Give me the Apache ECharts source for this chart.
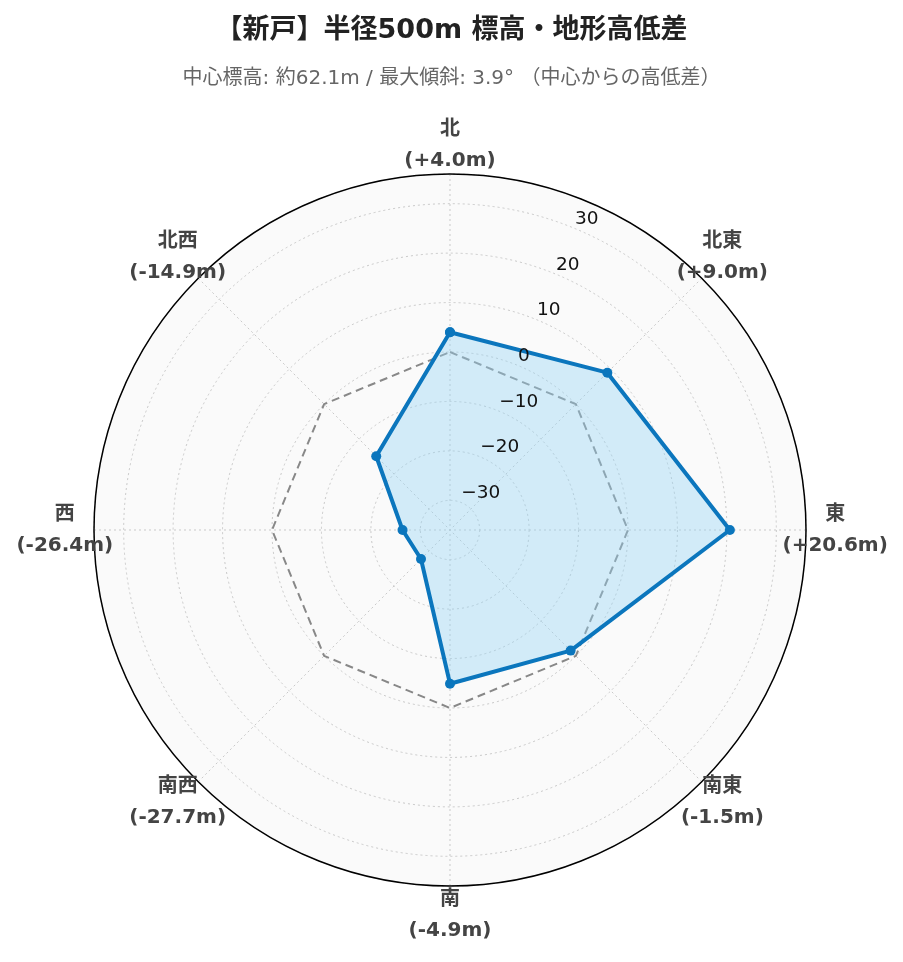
<!DOCTYPE html>
<html><head><meta charset="utf-8">
<script src="https://cdn.jsdelivr.net/npm/echarts@6/dist/echarts.min.js"></script>
<style>html,body{margin:0;padding:0;background:#fff}#chart{width:903px;height:962px}</style>
</head><body><div id="chart"></div>
<script>
// ---- data ----
const directions = ['北', '北東', '東', '南東', '南', '南西', '西', '北西'];
const elevDiff = [4.0, 9.0, 20.6, -1.5, -4.9, -27.7, -26.4, -14.9];
const zeroRef = [0, 0, 0, 0, 0, 0, 0, 0];
const radialTicks = [-30, -20, -10, 0, 10, 20, 30];
const titleText = '【新戸】半径500m 標高・地形高低差';
const subtitleText = '中心標高: 約62.1m / 最大傾斜: 3.9° （中心からの高低差）';

// ---- layout / style ----
const R_MIN = -36, R_MAX = 36;
const LABEL_R = 41.9;          // ring where direction labels are centred (axis units)
const STEP = 360 / directions.length;
const FONT = '"DejaVu Sans", "Noto Sans CJK JP", sans-serif';
const CENTER = [450, 530], RADIUS = 356;

function closed(arr) {
  const d = arr.map((v, i) => [v, i * STEP]);
  d.push([arr[0], 360]);
  return d;
}
function fmtDiff(v) { return '(' + (v >= 0 ? '+' : '-') + Math.abs(v).toFixed(1) + 'm)'; }
function fmtTick(v) { return v < 0 ? '\u2212' + Math.abs(v) : String(v); }

const chart = echarts.init(document.getElementById('chart'), null, {renderer: 'canvas'});
const grid = {color: '#c9c9c9', type: [2, 3], width: 1};

chart.setOption({
  backgroundColor: '#fff',
  animation: false,
  textStyle: {fontFamily: FONT},
  title: [
    {text: titleText, left: 'center', top: 12,
     textStyle: {fontSize: 27, fontWeight: 'bold', color: '#222', fontFamily: FONT}},
    {text: subtitleText, left: 'center', top: 64,
     textStyle: {fontSize: 20, fontWeight: 'normal', color: '#666', fontFamily: FONT}}
  ],
  polar: [
    {center: CENTER, radius: RADIUS},
    {center: CENTER, radius: RADIUS}
  ],
  angleAxis: [
    {polarIndex: 0, type: 'value', min: 0, max: 360, interval: STEP, startAngle: 90, clockwise: true,
     axisLine: {show: true, lineStyle: {color: '#000', width: 1.5}},
     axisTick: {show: false}, axisLabel: {show: false},
     splitLine: {show: true, lineStyle: grid}},
    {polarIndex: 1, type: 'value', min: 0, max: 360, interval: STEP, startAngle: 90 - STEP / 2, clockwise: true,
     z: -5,
     axisLine: {show: false}, axisTick: {show: false}, axisLabel: {show: false}, splitLine: {show: false},
     splitArea: {show: true, areaStyle: {color: ['#fafafa']}}}
  ],
  radiusAxis: [
    {polarIndex: 0, type: 'value', min: R_MIN, max: R_MAX, splitNumber: 7,
     axisLine: {show: false}, axisTick: {show: false}, axisLabel: {show: false},
     splitLine: {show: true, lineStyle: grid}},
    {polarIndex: 1, type: 'value', min: R_MIN, max: R_MAX, splitNumber: 7, z: 10,
     axisLine: {show: false}, axisTick: {show: false}, splitLine: {show: false},
     axisLabel: {show: true, fontSize: 18.5, color: '#111', margin: 0, fontFamily: FONT,
       align: 'left', verticalAlign: 'bottom',
       formatter: v => radialTicks.includes(v) ? fmtTick(v) : ''}}
  ],
  series: [
    {type: 'line', coordinateSystem: 'polar', polarIndex: 0, data: closed(zeroRef),
     symbol: 'none', silent: true, z: 3,
     lineStyle: {color: '#888', width: 2, type: [8, 5]}},
    {type: 'line', coordinateSystem: 'polar', polarIndex: 0, data: closed(elevDiff),
     symbol: 'circle', symbolSize: 10, z: 4,
     lineStyle: {color: '#0b76bd', width: 4},
     itemStyle: {color: '#0b76bd'},
     areaStyle: {origin: 'start', color: 'rgba(150,212,245,0.4)', opacity: 1}},
    {type: 'scatter', coordinateSystem: 'polar', polarIndex: 0, clip: false, silent: true, z: 5,
     data: directions.map((d, i) => [LABEL_R, i * STEP]),
     symbol: 'circle', symbolSize: 1, itemStyle: {color: 'rgba(0,0,0,0)', opacity: 1},
     label: {show: true, position: 'inside', align: 'center', verticalAlign: 'middle',
       formatter: p => directions[p.dataIndex] + '\n' + fmtDiff(elevDiff[p.dataIndex]),
       fontFamily: FONT, fontSize: 20, fontWeight: 'bold', color: '#444', lineHeight: 31,
       textBorderWidth: 0}}
  ]
});
</script></body></html>
